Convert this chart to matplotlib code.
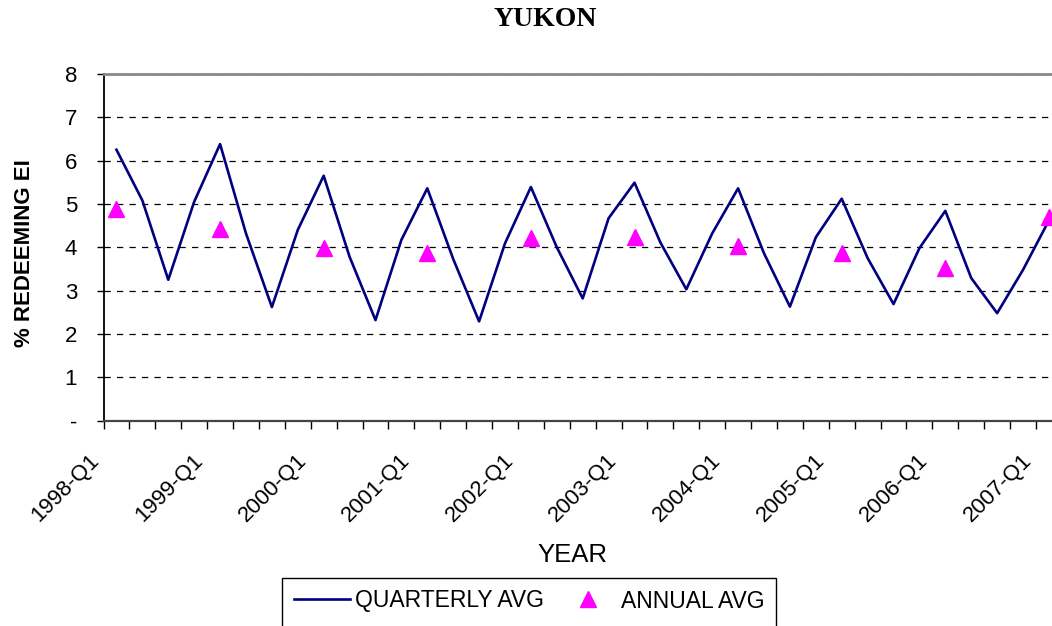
import numpy as np
import matplotlib
matplotlib.use("Agg")
import matplotlib.pyplot as plt
from matplotlib.ticker import FixedLocator, FuncFormatter
from matplotlib.patches import Rectangle
from matplotlib.lines import Line2D
import matplotlib.transforms as mtransforms

plt.rcParams["font.family"] = ["Liberation Sans", "DejaVu Sans"]

# quarters 1998-Q1 .. 2007-Q1
quarters = [f"{y}-Q{q}" for y in range(1998, 2008) for q in range(1, 5)][:37]
quarterly_avg = [6.25, 5.08, 3.25, 5.05, 6.38, 4.32, 2.62, 4.40, 5.65, 3.78,
                 2.32, 4.17, 5.36, 3.73, 2.29, 4.09, 5.39, 4.00, 2.82, 4.67,
                 5.49, 4.11, 3.03, 4.32, 5.36, 3.86, 2.63, 4.23, 5.12, 3.75,
                 2.69, 3.98, 4.84, 3.29, 2.48, 3.48, 4.62]

year_labels = ["1998-Q1", "1999-Q1", "2000-Q1", "2001-Q1", "2002-Q1",
               "2003-Q1", "2004-Q1", "2005-Q1", "2006-Q1", "2007-Q1"]
annual_avg = [4.89, 4.42, 3.98, 3.87, 4.22, 4.24, 4.02, 3.87, 3.53, 4.70]

fig = plt.figure(figsize=(10.52, 6.26), dpi=100)
ax = fig.add_axes([0.0984, 0.328, 0.911, 0.554])

ax.plot(quarters, quarterly_avg, color="#000080", lw=1.9, zorder=3)
ax.plot(year_labels, annual_avg, ls="none", marker="^", ms=12,
        color="#FF00FF", zorder=4, clip_on=False)

ax.set_xlim(-0.5, len(quarters) - 0.5)
ax.set_ylim(0, 8)

# gridlines
ax.set_yticks(range(0, 9))
ax.yaxis.set_major_formatter(FuncFormatter(lambda v, p: "-" if v == 0 else f"{int(v)}"))
ax.yaxis.grid(True, color="black", lw=0.9, linestyle=(0, (5, 5)))
ax.set_axisbelow(True)
ax.tick_params(axis="y", length=5, width=1, pad=14, labelsize=16, direction="out")

# x ticks: marks between categories, labels every year
ax.set_xticks([quarters.index(q) for q in year_labels], year_labels)
ax.xaxis.set_minor_locator(FixedLocator(np.arange(-0.5, len(quarters), 1)))
ax.tick_params(axis="x", which="major", length=0, pad=21, labelsize=16)
ax.tick_params(axis="x", which="minor", length=6, width=1, direction="out")
offset = mtransforms.ScaledTranslation(-13 / 100, 0, fig.dpi_scale_trans)
for lab in ax.get_xticklabels():
    lab.set_rotation(45)
    lab.set_ha("right")
    lab.set_va("top")
    lab.set_transform(lab.get_transform() + offset)

for s in ["top", "bottom", "left", "right"]:
    ax.spines[s].set_color("black")
ax.spines["top"].set_color("#888888")
ax.spines["top"].set_linewidth(2)
ax.spines["bottom"].set_color("#444444")
ax.spines["bottom"].set_linewidth(1.6)
ax.spines["left"].set_linewidth(1.3)

fig.text(545 / 1052, 1 - 20 / 626, "YUKON", ha="center", va="center",
         fontsize=20, fontweight="bold", family=["Liberation Serif", "DejaVu Serif"])
fig.text(25 / 1052, 1 - 253 / 626, "% REDEEMING EI", rotation=90, ha="center",
         va="center", fontsize=16, fontweight="bold")
fig.text(572 / 1052, 1 - 555 / 626, "YEAR", ha="center", va="center", fontsize=18.5)

# legend box runs past the bottom edge as in the original
fig.patches.append(Rectangle((281.7 / 1052, -0.05), (776 - 281.7) / 1052,
                             1 - 578 / 626 + 0.05, transform=fig.transFigure,
                             fill=False, edgecolor="black", lw=1))
handles = [Line2D([], [], color="#000080", lw=1.9),
           Line2D([], [], ls="none", marker="^", ms=12, color="#FF00FF")]
fig.legend(handles, ["QUARTERLY AVG", "ANNUAL AVG"], ncol=2, frameon=False,
           loc="center left", bbox_to_anchor=(294 / 1052, 1 - 601 / 626),
           fontsize=16.5, handlelength=2.45, handletextpad=0.22, columnspacing=0.7,
           borderpad=0, borderaxespad=0)

fig.savefig("out.png", dpi=100)
